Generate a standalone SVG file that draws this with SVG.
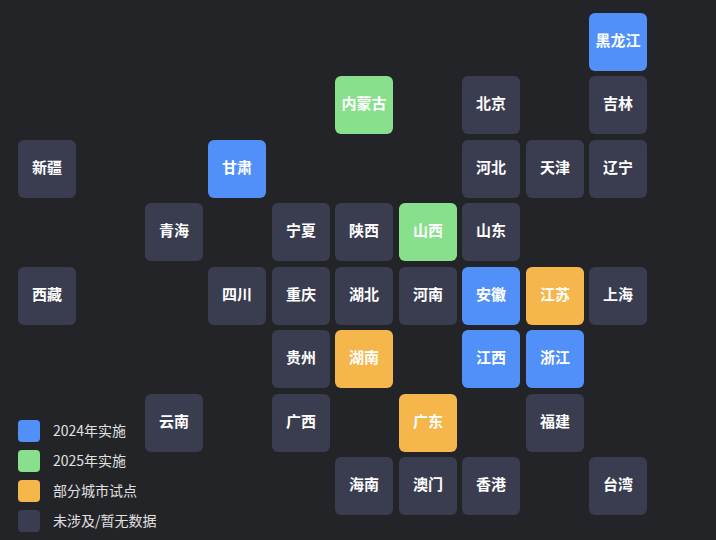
<svg xmlns="http://www.w3.org/2000/svg" width="716" height="540" viewBox="0 0 716 540">
<style>
.t rect{rx:6px;ry:6px}
.g{fill:#3a3d4f}.b{fill:#5090f8}.n{fill:#88e08c}.o{fill:#f5b64c}
.t text{font-family:"Noto Sans CJK SC","Noto Sans",sans-serif;font-size:15px;font-weight:bold;fill:#fff;text-anchor:middle;dominant-baseline:central}
.lg text{font-family:"Noto Sans CJK SC","Noto Sans",sans-serif;font-size:14px;fill:#e0e0e0;dominant-baseline:central}
</style>
<rect width="716" height="540" fill="#232427"/>
<g id="tiles">
<g id="hlj" class="t" transform="translate(589,13)"><rect class="b" width="58" height="58"/><text x="29" y="26.5">黑龙江</text></g>
<g id="nmg" class="t" transform="translate(335,76)"><rect class="n" width="58" height="58"/><text x="29" y="26.5">内蒙古</text></g>
<g id="bj" class="t" transform="translate(462,76)"><rect class="g" width="58" height="58"/><text x="29" y="26.5">北京</text></g>
<g id="jl" class="t" transform="translate(589,76)"><rect class="g" width="58" height="58"/><text x="29" y="26.5">吉林</text></g>
<g id="xj" class="t" transform="translate(18,140)"><rect class="g" width="58" height="58"/><text x="29" y="26.5">新疆</text></g>
<g id="gs" class="t" transform="translate(208,140)"><rect class="b" width="58" height="58"/><text x="29" y="26.5">甘肃</text></g>
<g id="hb" class="t" transform="translate(462,140)"><rect class="g" width="58" height="58"/><text x="29" y="26.5">河北</text></g>
<g id="tj" class="t" transform="translate(526,140)"><rect class="g" width="58" height="58"/><text x="29" y="26.5">天津</text></g>
<g id="ln" class="t" transform="translate(589,140)"><rect class="g" width="58" height="58"/><text x="29" y="26.5">辽宁</text></g>
<g id="qh" class="t" transform="translate(145,203)"><rect class="g" width="58" height="58"/><text x="29" y="26.5">青海</text></g>
<g id="nx" class="t" transform="translate(272,203)"><rect class="g" width="58" height="58"/><text x="29" y="26.5">宁夏</text></g>
<g id="sx" class="t" transform="translate(335,203)"><rect class="g" width="58" height="58"/><text x="29" y="26.5">陕西</text></g>
<g id="shx" class="t" transform="translate(399,203)"><rect class="n" width="58" height="58"/><text x="29" y="26.5">山西</text></g>
<g id="sd" class="t" transform="translate(462,203)"><rect class="g" width="58" height="58"/><text x="29" y="26.5">山东</text></g>
<g id="xz" class="t" transform="translate(18,267)"><rect class="g" width="58" height="58"/><text x="29" y="26.5">西藏</text></g>
<g id="sc" class="t" transform="translate(208,267)"><rect class="g" width="58" height="58"/><text x="29" y="26.5">四川</text></g>
<g id="cq" class="t" transform="translate(272,267)"><rect class="g" width="58" height="58"/><text x="29" y="26.5">重庆</text></g>
<g id="hub" class="t" transform="translate(335,267)"><rect class="g" width="58" height="58"/><text x="29" y="26.5">湖北</text></g>
<g id="hn" class="t" transform="translate(399,267)"><rect class="g" width="58" height="58"/><text x="29" y="26.5">河南</text></g>
<g id="ah" class="t" transform="translate(462,267)"><rect class="b" width="58" height="58"/><text x="29" y="26.5">安徽</text></g>
<g id="js" class="t" transform="translate(526,267)"><rect class="o" width="58" height="58"/><text x="29" y="26.5">江苏</text></g>
<g id="sh" class="t" transform="translate(589,267)"><rect class="g" width="58" height="58"/><text x="29" y="26.5">上海</text></g>
<g id="gz" class="t" transform="translate(272,330)"><rect class="g" width="58" height="58"/><text x="29" y="26.5">贵州</text></g>
<g id="hun" class="t" transform="translate(335,330)"><rect class="o" width="58" height="58"/><text x="29" y="26.5">湖南</text></g>
<g id="jx" class="t" transform="translate(462,330)"><rect class="b" width="58" height="58"/><text x="29" y="26.5">江西</text></g>
<g id="zj" class="t" transform="translate(526,330)"><rect class="b" width="58" height="58"/><text x="29" y="26.5">浙江</text></g>
<g id="yn" class="t" transform="translate(145,394)"><rect class="g" width="58" height="58"/><text x="29" y="26.5">云南</text></g>
<g id="gx" class="t" transform="translate(272,394)"><rect class="g" width="58" height="58"/><text x="29" y="26.5">广西</text></g>
<g id="gd" class="t" transform="translate(399,394)"><rect class="o" width="58" height="58"/><text x="29" y="26.5">广东</text></g>
<g id="fj" class="t" transform="translate(526,394)"><rect class="g" width="58" height="58"/><text x="29" y="26.5">福建</text></g>
<g id="hain" class="t" transform="translate(335,457)"><rect class="g" width="58" height="58"/><text x="29" y="26.5">海南</text></g>
<g id="am" class="t" transform="translate(399,457)"><rect class="g" width="58" height="58"/><text x="29" y="26.5">澳门</text></g>
<g id="xg" class="t" transform="translate(462,457)"><rect class="g" width="58" height="58"/><text x="29" y="26.5">香港</text></g>
<g id="tw" class="t" transform="translate(589,457)"><rect class="g" width="58" height="58"/><text x="29" y="26.5">台湾</text></g>
</g>
<g id="connectors"/>
<g id="legend" class="lg">
<rect class="b" x="18" y="420" width="22" height="22" rx="4"/><text x="53" y="430">2024年实施</text>
<rect class="n" x="18" y="450" width="22" height="22" rx="4"/><text x="53" y="460">2025年实施</text>
<rect class="o" x="18" y="480" width="22" height="22" rx="4"/><text x="53" y="490">部分城市试点</text>
<rect class="g" x="18" y="510" width="22" height="22" rx="4"/><text x="53" y="520">未涉及/暂无数据</text>
</g>
</svg>
